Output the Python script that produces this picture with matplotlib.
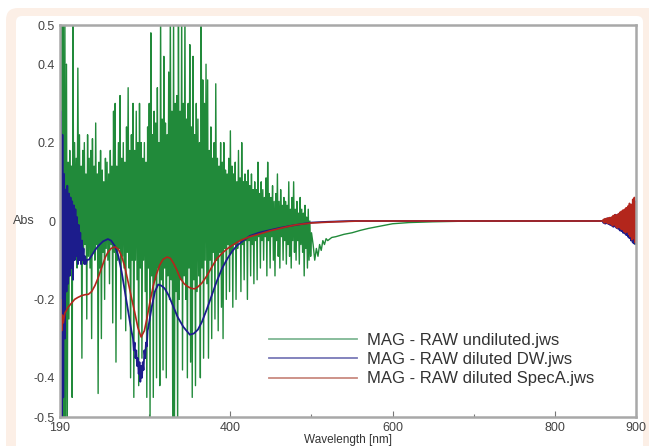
import numpy as np
import matplotlib
matplotlib.use('Agg')
import matplotlib.pyplot as plt
from matplotlib.patches import FancyBboxPatch
from matplotlib.lines import Line2D
from matplotlib.transforms import IdentityTransform

# ---- data ----
# undiluted sample: very noisy, 1 nm steps from 190 to 500
green_wl = np.arange(190, 501)
green_abs = [
    .60, -.60, .60, -.60, .60, -.60, .55, -.55, .40, -.50,
    .15, -.25, .18, -.08, .14, -.45, .50, -.10, .20, -.06,
    .16, -.12, .39, -.05, .22, -.10, .14, -.35, .18, -.08,
    .20, -.06, .12, -.25, .22, -.09, .16, -.12, .18, -.30,
    .21, -.08, .14, -.10, .25, -.06, .12, -.44, .15, -.12,
    .18, -.30, .13, -.08, .10, -.20, .16, -.07, .15, -.10,
    .12, -.16, .18, -.06, .14, -.26, .28, -.08, .30, -.36,
    .14, -.10, .20, -.07, .32, -.25, .16, -.09, .20, -.12,
    .15, -.28, .24, -.08, .34, -.12, .18, -.40, .22, -.10,
    .30, -.45, .18, -.10, .28, -.15, .20, -.42, .30, -.12,
    .20, -.35, .16, -.10, .20, -.18, .15, -.45, .24, -.12,
    .30, -.50, .48, -.14, .22, -.45, .28, -.15, .25, -.40,
    .34, -.12, .20, -.42, .55, -.15, .26, -.38, .42, -.12,
    .25, -.40, .22, -.14, .38, -.20, .55, -.15, .28, -.52,
    .55, -.60, .30, -.18, .32, -.55, .55, -.20, .28, -.15,
    .55, -.38, .30, -.14, .55, -.20, .26, -.40, .30, -.12,
    .45, -.36, .24, -.45, .42, -.15, .22, -.42, .30, -.18,
    .26, -.14, .20, -.40, .55, -.12, .36, -.35, .30, -.10,
    .40, -.16, .36, -.35, .18, -.10, .24, -.30, .16, -.08,
    .20, -.25, .35, -.10, .16, -.28, .14, -.08, .20, -.22,
    .15, -.30, .20, -.07, .13, -.20, .12, -.06, .16, -.18,
    .23, -.08, .14, -.22, .12, -.06, .15, -.20, .10, -.07,
    .18, -.05, .11, -.18, .20, -.06, .10, -.15, .12, -.05,
    .10, -.20, .13, -.05, .09, -.14, .12, -.06, .08, -.16,
    .10, -.05, .08, -.15, .15, -.04, .07, -.12, .10, -.05,
    .08, -.10, .06, -.04, .11, -.14, .15, -.05, .07, -.12,
    .06, -.04, .09, -.10, .05, -.14, .07, -.05, .12, -.09,
    .05, -.12, .08, -.04, .04, -.10, .06, -.05, .05, -.11,
    .04, -.06, .10, -.09, .03, -.12, .06, -.05, .10, -.08,
    .03, -.10, .05, -.05, .02, -.11, .06, -.06, .03, -.08,
    .02, -.14, .04, -.07, .01, -.12, .03, -.10, .00, -.09,
    -.03,
]
green_tail_wl = [502, 504, 506, 508, 510, 512, 514, 516, 518, 520, 525, 530, 540,
                 550, 560, 570, 580, 590, 600, 620, 650, 700, 750, 800, 859]
green_tail_abs = [-.06, -.10, -.07, -.09, -.06, -.075, -.05, -.06, -.045, -.05, -.042,
                  -.04, -.034, -.03, -.024, -.019, -.015, -.011, -.007, -.004, -.002,
                  0, 0, 0, 0]

# diluted DW
blue_start_wl = np.arange(190, 224)
blue_start_abs = [
    -.60, .28, -.55, .22, -.45, .12, -.30, .08, -.18, .09,
    -.16, .07, -.14, .06, -.12, .05, -.15, .04, -.10, .03,
    -.09, .01, -.11, -.01, -.10, -.03, -.11, -.05, -.10, -.07,
    -.11, -.09, -.11, -.10,
]
blue_mid_wl = [226, 230, 234, 238, 243, 249, 253, 258, 262, 266, 270, 274, 278]
blue_mid_abs = [-.098, -.085, -.072, -.062, -.052, -.046, -.05, -.065, -.09, -.13,
                -.18, -.23, -.28]
blue_dip_wl = np.arange(280, 300)
blue_dip_abs = [-.30, -.33, -.31, -.35, -.33, -.37, -.35, -.39, -.36, -.41,
                -.37, -.40, -.36, -.38, -.33, -.35, -.31, -.32, -.28, -.27]
blue_rest_wl = [303, 307, 311, 315, 319, 324, 329, 335, 342, 350, 355, 360, 365, 371,
                377, 383, 390, 396, 402, 408, 416, 424, 435, 445, 460, 475, 490, 500,
                520, 550, 600, 700, 800, 859]
blue_rest_abs = [-.22, -.18, -.162, -.165, -.172, -.19, -.215, -.245, -.27, -.29,
                 -.287, -.277, -.257, -.225, -.19, -.155, -.12, -.097, -.078, -.063,
                 -.05, -.038, -.03, -.025, -.018, -.012, -.007, -.004, -.002, 0, 0,
                 0, 0, 0]

# diluted SpecA
red_wl = [190, 191, 192, 193, 194, 196, 200, 204, 208, 212, 217, 221, 225, 229, 233,
          237, 242, 246, 249, 253, 258, 262, 266, 270, 274, 278, 282, 286, 290, 294,
          297, 301, 305, 309, 313, 317, 322, 326, 330, 334, 338, 343, 348, 352, 356,
          360, 365, 371, 377, 383, 390, 396, 404, 412, 424, 436, 449, 465, 480, 500,
          530, 560, 600, 700, 800, 859]
red_abs = [-.30, -.20, -.28, -.24, -.26, -.235, -.22, -.21, -.20, -.195, -.19, -.188,
           -.187, -.18, -.165, -.145, -.115, -.092, -.08, -.07, -.066, -.072, -.09,
           -.118, -.156, -.195, -.232, -.272, -.296, -.28, -.25, -.205, -.165, -.135,
           -.112, -.098, -.092, -.095, -.108, -.125, -.145, -.16, -.168, -.172, -.173,
           -.168, -.158, -.14, -.118, -.097, -.082, -.071, -.06, -.05, -.04, -.033,
           -.025, -.017, -.01, -.005, -.002, 0, 0, 0, 0, 0]

# detector noise at the long-wavelength end, 1 nm steps 860..900
end_wl = np.arange(860, 901)
green_end_abs = [
    .003, -.004, .005, -.003, .006, -.005, .006, -.006, .007, -.006,
    .008, -.010, .012, -.008, .013, -.012, .012, -.015, .016, -.013,
    .018, -.017, .022, -.018, .024, -.022, .026, -.026, .030, -.025,
    .034, -.030, .040, -.036, .038, -.044, .050, -.040, .055, -.060,
    .035,
]
blue_end_abs = [
    -.005, .004, -.007, .005, -.006, .007, -.008, .006, -.010, .008,
    -.012, .010, -.015, .012, -.014, .016, -.018, .014, -.020, .018,
    -.024, .020, -.026, .022, -.030, .026, -.032, .028, -.036, .030,
    -.040, .035, -.044, .040, -.050, .042, -.055, .048, -.058, .050,
    -.040,
]
red_end_abs = [
    .004, -.005, .006, -.004, .007, -.006, .008, -.007, .009, -.008,
    .010, -.012, .014, -.010, .016, -.014, .015, -.018, .018, -.016,
    .022, -.020, .025, -.022, .028, -.026, .030, -.030, .034, -.028,
    .038, -.034, .045, -.040, .042, -.048, .055, -.045, .060, -.055,
    .045,
]

labels = ['MAG - RAW undiluted.jws', 'MAG - RAW diluted DW.jws',
          'MAG - RAW diluted SpecA.jws']

green_x = np.concatenate([green_wl, green_tail_wl, end_wl])
green_y = np.concatenate([green_abs, green_tail_abs, green_end_abs])
blue_x = np.concatenate([blue_start_wl, blue_mid_wl, blue_dip_wl, blue_rest_wl, end_wl])
blue_y = np.concatenate([blue_start_abs, blue_mid_abs, blue_dip_abs, blue_rest_abs, blue_end_abs])
red_x = np.concatenate([red_wl, end_wl])
red_y = np.concatenate([red_abs, red_end_abs])

plt.rcParams['font.family'] = ['Liberation Sans', 'DejaVu Sans']

fig = plt.figure(figsize=(6.49, 4.46), dpi=100)

# beige rounded frame around the figure
outer = FancyBboxPatch((6, -40), 690, 478, boxstyle='round,pad=0,rounding_size=12',
                       fc='#fcefe6', ec='none', transform=IdentityTransform(), zorder=-3)
inner = FancyBboxPatch((16, -40), 627, 470, boxstyle='round,pad=0,rounding_size=6',
                       fc='white', ec='none', transform=IdentityTransform(), zorder=-2)
fig.patches.extend([outer, inner])

ax = fig.add_axes([60/649, 1-417/446, 576/649, 392/446])
ax.plot(green_x, green_y, color='#218a3a', lw=1.0)
ax.plot(blue_x, blue_y, color='#1c1c8c', lw=1.3)
ax.plot(red_x, red_y, color='#b3261c', lw=1.2)

ax.set_xlim(190, 900)
ax.set_ylim(-0.5, 0.5)

for s in ax.spines.values():
    s.set_color('#a8a8a8')
    s.set_linewidth(1.8)

ax.set_xticks([190, 400, 600, 800, 900])
ax.set_xticklabels(['190', '400', '600', '800', '900'])
ax.set_xticks([300, 500, 700], minor=True)
ax.set_yticks([-0.5, -0.4, -0.2, 0, 0.2, 0.4, 0.5])
ax.set_yticklabels(['-0.5', '-0.4', '-0.2', '0', '0.2', '0.4', '0.5'])
ax.tick_params(which='major', direction='in', length=4, width=0.8, color='#777777',
               labelsize=9, labelcolor='#444444', pad=3.5)
ax.tick_params(which='minor', direction='in', length=2.5, width=0.8, color='#777777')

ax.set_xlabel('Wavelength [nm]', fontsize=8.5, color='#333333', labelpad=0)
ax.set_ylabel('Abs', rotation=0, fontsize=9, color='#444444', ha='center', va='center')
ax.yaxis.set_label_coords(-0.0625, 0.5)

handles = [Line2D([], [], color='#7fb894', lw=1.3),
           Line2D([], [], color='#7a7ab8', lw=1.3),
           Line2D([], [], color='#c98a80', lw=1.3)]
ax.legend(handles, labels, loc='upper left', bbox_to_anchor=(0.363, 0.214),
          frameon=False, fontsize=12, handlelength=5.3, handletextpad=0.55,
          labelspacing=0.25, borderpad=0, borderaxespad=0, labelcolor='#333333')

fig.savefig('out.png', dpi=100)
